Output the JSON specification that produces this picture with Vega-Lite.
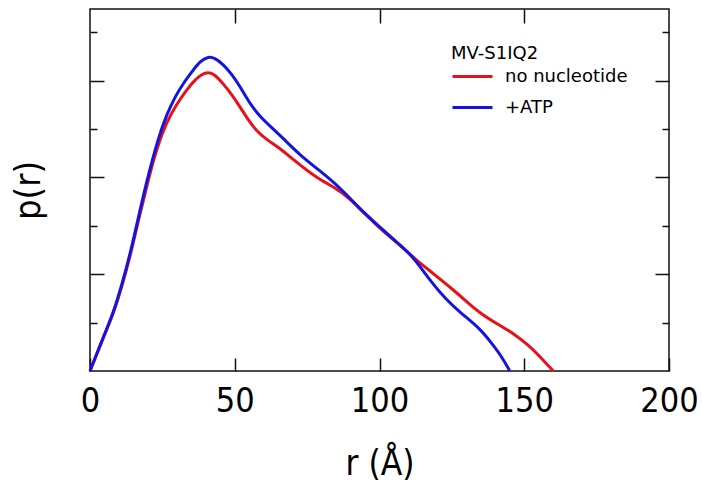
{
  "$schema": "https://vega.github.io/schema/vega-lite/v6.json",
  "width": 579,
  "height": 362,
  "autosize": "none",
  "padding": {"left": 90, "top": 9, "right": 33, "bottom": 115},
  "config": {
    "view": {"stroke": "#111", "strokeWidth": 1.5},
    "axis": {"domain": false, "grid": false, "tickColor": "#111", "tickWidth": 1.5, "labelColor": "#000", "titleColor": "#000", "labelFont": "DejaVu Sans Condensed", "titleFont": "DejaVu Sans Condensed", "titleFontWeight": "normal", "labelFlush": false},
    "legend": {"labelFont": "DejaVu Sans", "titleFont": "DejaVu Sans"}
  },
  "data": {"values": [
    {"s": "no nucleotide", "r": 0, "p": 0},
    {"s": "no nucleotide", "r": 2.5, "p": 0.37},
    {"s": "no nucleotide", "r": 5, "p": 0.75},
    {"s": "no nucleotide", "r": 8, "p": 1.17},
    {"s": "no nucleotide", "r": 11, "p": 1.74},
    {"s": "no nucleotide", "r": 14, "p": 2.4},
    {"s": "no nucleotide", "r": 17, "p": 3.18},
    {"s": "no nucleotide", "r": 20, "p": 3.92},
    {"s": "no nucleotide", "r": 23, "p": 4.6},
    {"s": "no nucleotide", "r": 26.5, "p": 5.15},
    {"s": "no nucleotide", "r": 30, "p": 5.52},
    {"s": "no nucleotide", "r": 33.4, "p": 5.81},
    {"s": "no nucleotide", "r": 36, "p": 6.0},
    {"s": "no nucleotide", "r": 38.5, "p": 6.13},
    {"s": "no nucleotide", "r": 40.9, "p": 6.18},
    {"s": "no nucleotide", "r": 43, "p": 6.13},
    {"s": "no nucleotide", "r": 46, "p": 5.94},
    {"s": "no nucleotide", "r": 49, "p": 5.71},
    {"s": "no nucleotide", "r": 51.8, "p": 5.46},
    {"s": "no nucleotide", "r": 54.5, "p": 5.2},
    {"s": "no nucleotide", "r": 57.5, "p": 4.96},
    {"s": "no nucleotide", "r": 61, "p": 4.78},
    {"s": "no nucleotide", "r": 65.6, "p": 4.6},
    {"s": "no nucleotide", "r": 69, "p": 4.43},
    {"s": "no nucleotide", "r": 72.5, "p": 4.26},
    {"s": "no nucleotide", "r": 78.3, "p": 3.99},
    {"s": "no nucleotide", "r": 85.2, "p": 3.77},
    {"s": "no nucleotide", "r": 89.8, "p": 3.56},
    {"s": "no nucleotide", "r": 95, "p": 3.24},
    {"s": "no nucleotide", "r": 101.3, "p": 2.88},
    {"s": "no nucleotide", "r": 107.1, "p": 2.6},
    {"s": "no nucleotide", "r": 112.8, "p": 2.29},
    {"s": "no nucleotide", "r": 117, "p": 2.09},
    {"s": "no nucleotide", "r": 120.9, "p": 1.9},
    {"s": "no nucleotide", "r": 125, "p": 1.7},
    {"s": "no nucleotide", "r": 128.9, "p": 1.5},
    {"s": "no nucleotide", "r": 134.7, "p": 1.19},
    {"s": "no nucleotide", "r": 141.6, "p": 0.94},
    {"s": "no nucleotide", "r": 146.2, "p": 0.78},
    {"s": "no nucleotide", "r": 151.4, "p": 0.54},
    {"s": "no nucleotide", "r": 155.4, "p": 0.3},
    {"s": "no nucleotide", "r": 160, "p": 0},
    {"s": "+ATP", "r": 0, "p": 0},
    {"s": "+ATP", "r": 2.5, "p": 0.38},
    {"s": "+ATP", "r": 5, "p": 0.76},
    {"s": "+ATP", "r": 8, "p": 1.19},
    {"s": "+ATP", "r": 11, "p": 1.78},
    {"s": "+ATP", "r": 14, "p": 2.45},
    {"s": "+ATP", "r": 17, "p": 3.25},
    {"s": "+ATP", "r": 20, "p": 4.02},
    {"s": "+ATP", "r": 23.6, "p": 4.82},
    {"s": "+ATP", "r": 26.5, "p": 5.3},
    {"s": "+ATP", "r": 29.4, "p": 5.67},
    {"s": "+ATP", "r": 32.5, "p": 5.97},
    {"s": "+ATP", "r": 35.7, "p": 6.22},
    {"s": "+ATP", "r": 38, "p": 6.4},
    {"s": "+ATP", "r": 40.9, "p": 6.5},
    {"s": "+ATP", "r": 43, "p": 6.47},
    {"s": "+ATP", "r": 46, "p": 6.34},
    {"s": "+ATP", "r": 49, "p": 6.13},
    {"s": "+ATP", "r": 51.8, "p": 5.88},
    {"s": "+ATP", "r": 54, "p": 5.65},
    {"s": "+ATP", "r": 56.4, "p": 5.43},
    {"s": "+ATP", "r": 59, "p": 5.24},
    {"s": "+ATP", "r": 62.2, "p": 5.06},
    {"s": "+ATP", "r": 66, "p": 4.85},
    {"s": "+ATP", "r": 70.2, "p": 4.6},
    {"s": "+ATP", "r": 72.5, "p": 4.47},
    {"s": "+ATP", "r": 78, "p": 4.2},
    {"s": "+ATP", "r": 84.1, "p": 3.91},
    {"s": "+ATP", "r": 89.8, "p": 3.57},
    {"s": "+ATP", "r": 95, "p": 3.25},
    {"s": "+ATP", "r": 101.3, "p": 2.91},
    {"s": "+ATP", "r": 106, "p": 2.66},
    {"s": "+ATP", "r": 110.5, "p": 2.42},
    {"s": "+ATP", "r": 114, "p": 2.16},
    {"s": "+ATP", "r": 117.4, "p": 1.88},
    {"s": "+ATP", "r": 122.6, "p": 1.5},
    {"s": "+ATP", "r": 128, "p": 1.2},
    {"s": "+ATP", "r": 134.7, "p": 0.88},
    {"s": "+ATP", "r": 138.8, "p": 0.57},
    {"s": "+ATP", "r": 142.2, "p": 0.3},
    {"s": "+ATP", "r": 145, "p": 0}
  ]},
  "layer": [
    {
      "mark": {"type": "line", "strokeWidth": 3, "interpolate": "basis"},
      "encoding": {
        "x": {"field": "r", "type": "quantitative", "scale": {"domain": [0, 200], "nice": false, "zero": false},
              "axis": {"orient": "bottom", "values": [0, 50, 100, 150, 200], "tickSize": -13, "labelPadding": 26, "labelFontSize": 34, "title": "r (Å)", "titleFontSize": 35, "titlePadding": 28}},
        "y": {"field": "p", "type": "quantitative", "scale": {"domain": [0, 7.48], "nice": false},
              "axis": {"orient": "left", "values": [2, 4, 6], "tickSize": -14, "labels": false, "title": "p(r)", "titleFontSize": 36, "titlePadding": 42}},
        "color": {"field": "s", "type": "nominal",
                  "scale": {"domain": ["no nucleotide", "+ATP"], "range": ["#e8101a", "#1414e0"]},
                  "legend": {"title": "MV-S1IQ2", "orient": "none", "legendX": 361, "legendY": 36, "titleFontSize": 18, "titleFontWeight": "normal", "labelFontSize": 18, "symbolType": "stroke", "symbolSize": 1600, "symbolStrokeWidth": 3, "labelOffset": 11, "titlePadding": -8, "rowPadding": -9}},
        "detail": {"field": "s"}
      }
    },
    {
      "mark": {"type": "line", "opacity": 0},
      "encoding": {
        "x": {"field": "r", "type": "quantitative", "axis": {"orient": "top", "values": [50, 100, 150], "tickSize": -14, "labels": false, "title": null}},
        "y": {"field": "p", "type": "quantitative", "axis": {"orient": "right", "values": [2, 4, 6], "tickSize": -14, "labels": false, "title": null}},
        "detail": {"field": "s"}
      }
    },
    {
      "mark": {"type": "line", "opacity": 0},
      "encoding": {
        "x": {"field": "r", "type": "quantitative", "axis": null},
        "y": {"field": "p", "type": "quantitative", "axis": {"orient": "left", "values": [1, 3, 5, 7], "tickSize": -7, "labels": false, "title": null}},
        "detail": {"field": "s"}
      }
    },
    {
      "mark": {"type": "line", "opacity": 0},
      "encoding": {
        "x": {"field": "r", "type": "quantitative", "axis": null},
        "y": {"field": "p", "type": "quantitative", "axis": {"orient": "right", "values": [1, 3, 5, 7], "tickSize": -7, "labels": false, "title": null}},
        "detail": {"field": "s"}
      }
    }
  ],
  "resolve": {"axis": {"x": "independent", "y": "independent"}}
}
